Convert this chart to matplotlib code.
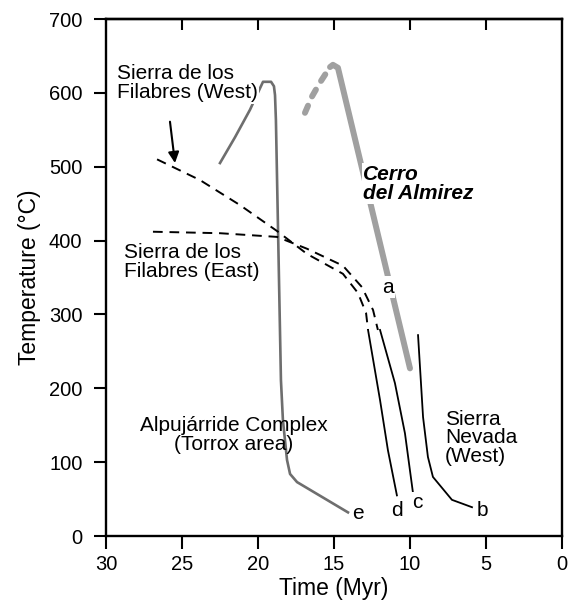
import matplotlib; matplotlib.use("Agg")
import matplotlib.pyplot as plt

plt.rcParams['font.family'] = ['Liberation Sans', 'DejaVu Sans']

# Cerro del Almirez (thick light grey): dashed prograde part, then solid
almirez_dash_t = [16.91, 16.45, 15.92, 15.26]
almirez_dash_T = [573, 595, 614, 635]
almirez_t = [15.26, 15.07, 14.74, 10.0]
almirez_T = [635, 638, 634, 227]

# Alpujarride Complex (Torrox area), curve e
alpu_t = [22.5, 21.51, 20.53, 19.67, 19.14, 18.95, 18.88, 18.82, 18.49, 18.36, 18.09, 17.89, 17.43, 14.08]
alpu_T = [505, 540, 577, 615, 615, 609, 597, 563, 211, 157, 103, 84, 73, 32]

# Sierra de los Filabres dashed paths
west_t = [26.64, 23.82, 21.18, 18.75, 16.78, 14.41, 13.42, 12.89, 12.76]
west_T = [510, 482, 448, 413, 382, 355, 329, 302, 279]
east_t = [26.91, 22.5, 18.75, 16.78, 14.41, 13.16, 12.43, 12.11]
east_T = [412, 410, 405, 389, 366, 337, 306, 279]

# solid cooling curves d, c, b
d_t = [12.76, 11.97, 11.45, 10.86]
d_T = [279, 184, 116, 55]
c_t = [11.97, 10.99, 10.33, 9.80]
c_T = [279, 207, 139, 58]
b_t = [9.47, 9.14, 8.82, 8.49, 7.24, 5.92]
b_T = [272, 161, 107, 80, 49, 39]

letters = ["a", "b", "c", "d", "e"]
letter_t = [11.45, 5.26, 9.54, 10.86, 13.42]
letter_T = [337, 35, 45, 35, 31]

fig = plt.figure(figsize=(5.68, 6.08), dpi=100)
ax = fig.add_axes([0.1866, 0.1184, 0.8028, 0.8503])

lg = "#a0a0a0"; dg = "#6e6e6e"
ax.plot(almirez_dash_t, almirez_dash_T, color=lg, lw=4.3, dashes=(1.3, 1.7),
        dash_capstyle="round", solid_capstyle="round", zorder=2)
ax.plot(almirez_t, almirez_T, color=lg, lw=4.3, solid_capstyle="round", zorder=2)
ax.plot(alpu_t, alpu_T, color=dg, lw=1.9, zorder=2)
ax.plot(west_t, west_T, color="k", lw=1.4, dashes=(5, 3.5), zorder=3)
ax.plot(east_t, east_T, color="k", lw=1.4, dashes=(5, 3.5), zorder=3)
for t, T in [(d_t, d_T), (c_t, c_T), (b_t, b_T)]:
    ax.plot(t, T, color="k", lw=1.3, zorder=3)

wb = dict(facecolor="white", edgecolor="none", pad=1.0)
fs = 15
for s, t, T in zip(letters, letter_t, letter_T):
    ax.text(t, T, s, fontsize=fs, ha="center", va="center", bbox=wb, zorder=5)

ax.text(29.28, 613, "Sierra de los\nFilabres (West)", fontsize=fs, ha="left", va="center",
        linespacing=1.0, bbox=wb, zorder=5)
ax.text(28.82, 371, "Sierra de los\nFilabres (East)", fontsize=fs, ha="left", va="center",
        linespacing=1.0, bbox=wb, zorder=5)
ax.text(21.58, 137, "Alpujárride Complex\n(Torrox area)", fontsize=fs, ha="center", va="center",
        linespacing=1.0, zorder=5)
ax.text(7.70, 133, "Sierra\nNevada\n(West)", fontsize=fs, ha="left", va="center",
        linespacing=0.97, zorder=5)
ax.text(13.09, 477, "Cerro\ndel Almirez", fontsize=fs, ha="left", va="center",
        fontweight="bold", fontstyle="italic", linespacing=0.97, bbox=wb, zorder=5)

ax.annotate("", xy=(25.46, 505), xytext=(25.79, 561),
            arrowprops=dict(arrowstyle="-|>", color="k", lw=1.5, mutation_scale=16,
                            shrinkA=0, shrinkB=0), zorder=6)

ax.set_xlim(30, 0)
ax.set_ylim(0, 700)
ax.set_xticks([30, 25, 20, 15, 10, 5, 0])
ax.set_yticks(range(0, 701, 100))
ax.tick_params(direction="out", length=9, width=1.5, labelsize=14.5)
ax.tick_params(axis="y", pad=8)
ax.tick_params(axis="x", pad=5)
for sp in ax.spines.values():
    sp.set_linewidth(1.7)
top = ax.secondary_xaxis("top")
top.set_xticks([25, 20, 15, 10, 5])
top.tick_params(direction="in", length=8, width=1.5, labeltop=False)
top.spines["top"].set_linewidth(1.7)

ax.set_xlabel("Time (Myr)", fontsize=16.5, labelpad=2)
ax.set_ylabel("Temperature (°C)", fontsize=16.5, labelpad=6)

fig.savefig("out.png", dpi=100)
